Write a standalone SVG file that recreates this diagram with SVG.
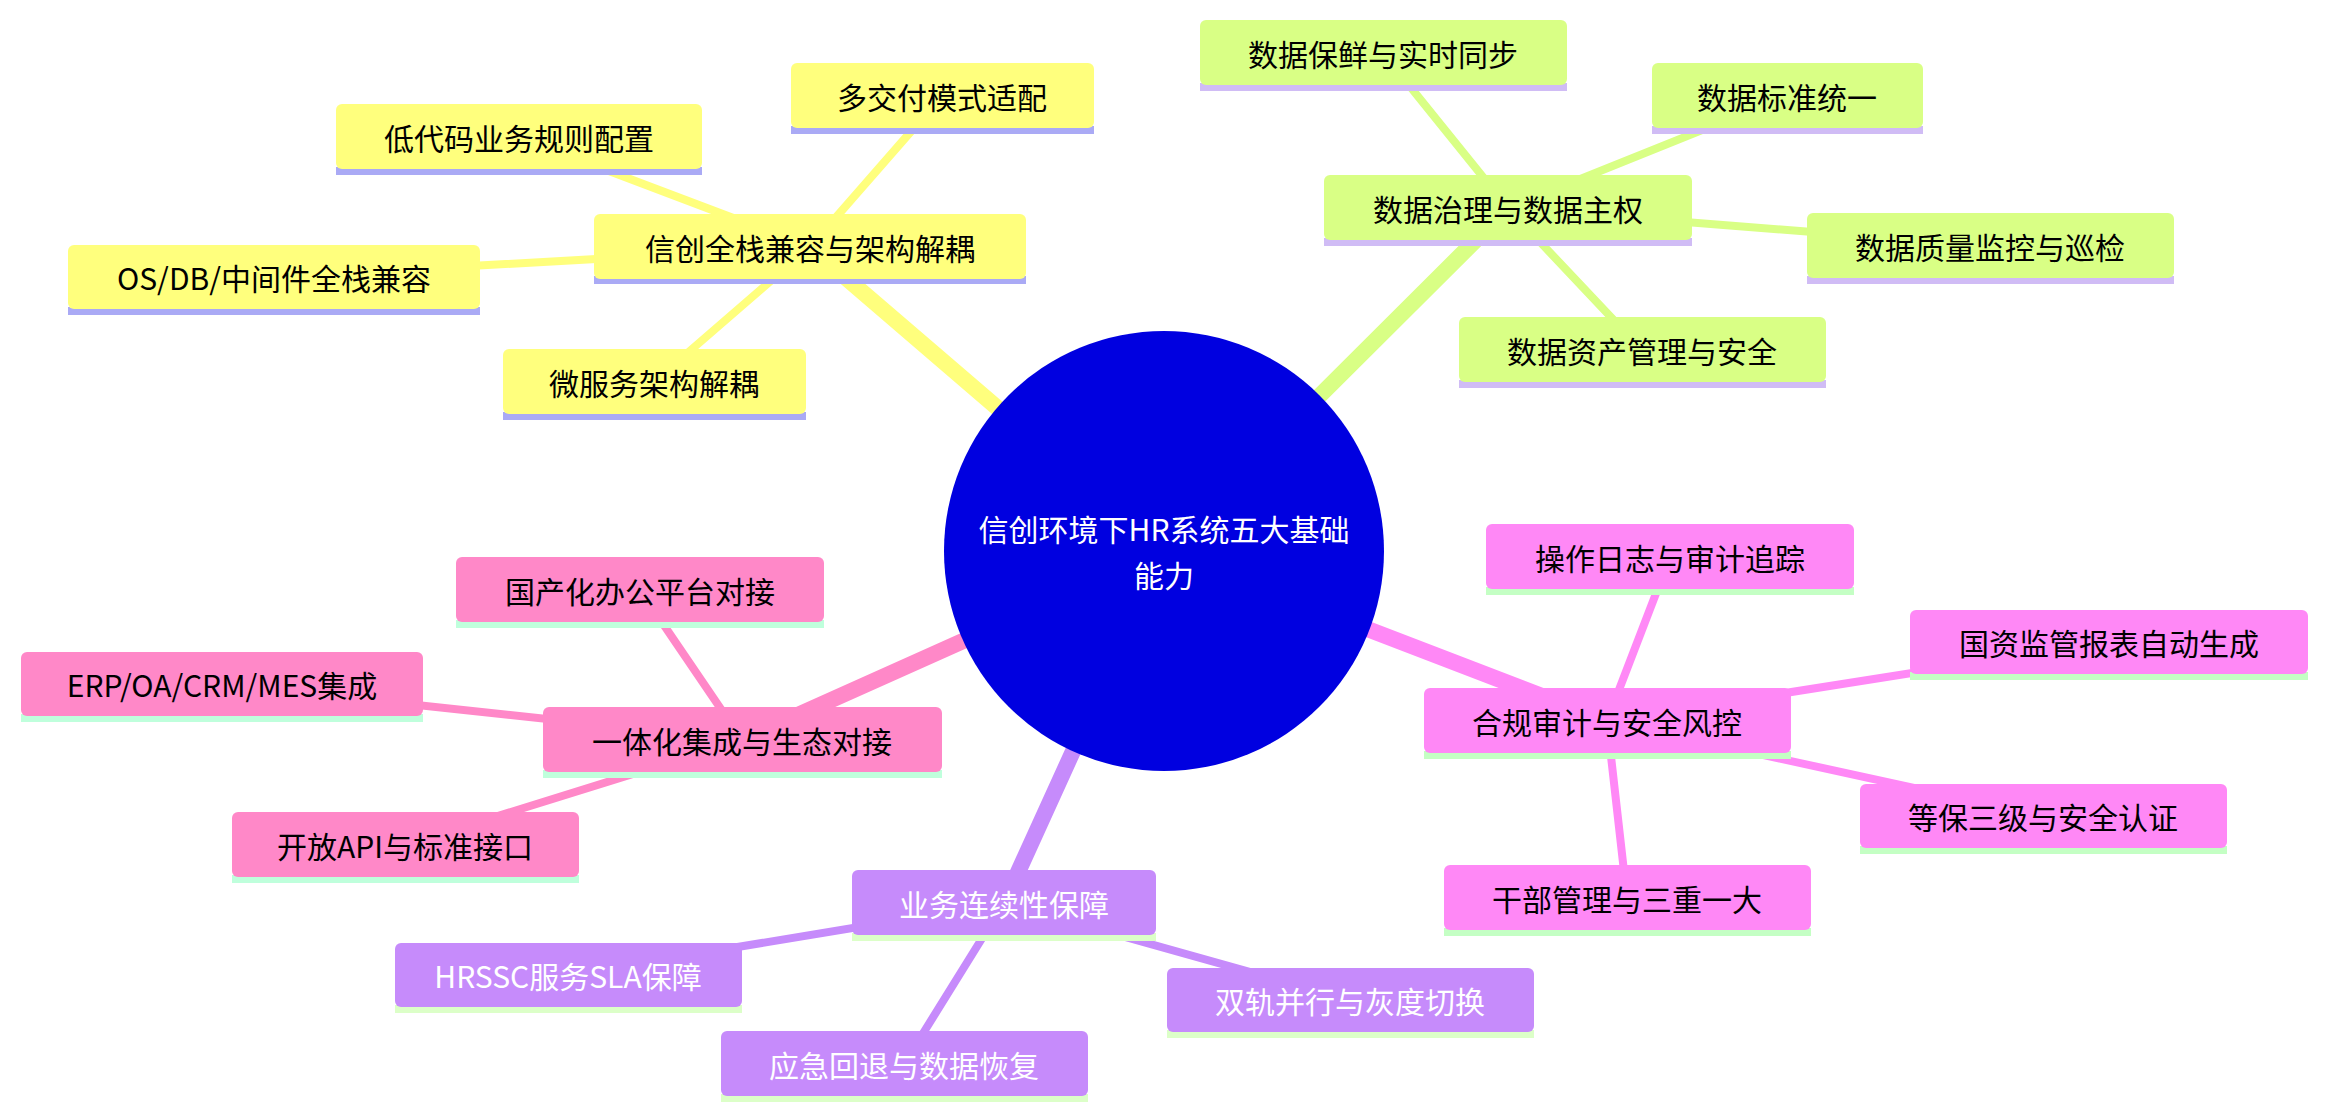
<svg xmlns="http://www.w3.org/2000/svg" width="2329" height="1118" viewBox="0 0 2329 1118">
<style>
text{font-family:"Noto Sans CJK SC","Noto Sans",sans-serif;font-size:30px;text-anchor:middle;dominant-baseline:central}
.y rect.b{fill:#ffff7d}.y rect.u{fill:#aaaaf5}
.g rect.b{fill:#d9ff85}.g rect.u{fill:#d0bcf5}
.p rect.b{fill:#ff88c8}.p rect.u{fill:#bfffdc}
.v rect.b{fill:#c68bfb}.v rect.u{fill:#dcffc8}
.m rect.b{fill:#ff88f6}.m rect.u{fill:#c4ffc4}
.v text,.c text{fill:#fff}
.ly{stroke:#ffff7d}.lg{stroke:#d9ff85}.lp{stroke:#ff88c8}.lv{stroke:#c68bfb}.lm{stroke:#ff88f6}
.t{stroke-width:16}.s{stroke-width:8}
</style>
<g id="connectors" fill="none" stroke-linecap="round">
<line class="ly t" x1="1164" y1="551" x2="810" y2="247"/>
<line class="ly s" x1="810" y1="247" x2="942" y2="96"/>
<line class="ly s" x1="810" y1="247" x2="519" y2="137"/>
<line class="ly s" x1="810" y1="247" x2="274" y2="277"/>
<line class="ly s" x1="810" y1="247" x2="654" y2="382"/>
<line class="lg t" x1="1164" y1="551" x2="1508" y2="208"/>
<line class="lg s" x1="1508" y1="208" x2="1383" y2="53"/>
<line class="lg s" x1="1508" y1="208" x2="1787" y2="96"/>
<line class="lg s" x1="1508" y1="208" x2="1990" y2="246"/>
<line class="lg s" x1="1508" y1="208" x2="1642" y2="350"/>
<line class="lp t" x1="1164" y1="551" x2="742" y2="740"/>
<line class="lp s" x1="742" y1="740" x2="640" y2="590"/>
<line class="lp s" x1="742" y1="740" x2="222" y2="684"/>
<line class="lp s" x1="742" y1="740" x2="405" y2="845"/>
<line class="lv t" x1="1164" y1="551" x2="1004" y2="903"/>
<line class="lv s" x1="1004" y1="903" x2="568" y2="975"/>
<line class="lv s" x1="1004" y1="903" x2="904" y2="1064"/>
<line class="lv s" x1="1004" y1="903" x2="1350" y2="1000"/>
<line class="lm t" x1="1164" y1="551" x2="1607" y2="721"/>
<line class="lm s" x1="1607" y1="721" x2="1670" y2="557"/>
<line class="lm s" x1="1607" y1="721" x2="2109" y2="642"/>
<line class="lm s" x1="1607" y1="721" x2="2043" y2="816"/>
<line class="lm s" x1="1607" y1="721" x2="1627" y2="898"/>
</g>
<g id="center" class="c"><circle cx="1164" cy="551" r="220" fill="#0000e0"/><text x="1164" y="528">信创环境下HR系统五大基础</text><text x="1164" y="574">能力</text></g>
<g id="n1" class="y"><rect class="u" x="594" y="276" width="432" height="8"/><rect class="b" x="594" y="214" width="432" height="65" rx="6"/><text x="810" y="247" fill="#000">信创全栈兼容与架构解耦</text></g>
<g id="n1a" class="y"><rect class="u" x="791" y="126" width="303" height="8"/><rect class="b" x="791" y="63" width="303" height="65" rx="6"/><text x="942" y="96">多交付模式适配</text></g>
<g id="n1b" class="y"><rect class="u" x="336" y="167" width="366" height="8"/><rect class="b" x="336" y="104" width="366" height="65" rx="6"/><text x="519" y="137">低代码业务规则配置</text></g>
<g id="n1c" class="y"><rect class="u" x="68" y="307" width="412" height="8"/><rect class="b" x="68" y="245" width="412" height="64" rx="6"/><text x="274" y="277">OS/DB/中间件全栈兼容</text></g>
<g id="n1d" class="y"><rect class="u" x="503" y="412" width="303" height="8"/><rect class="b" x="503" y="349" width="303" height="65" rx="6"/><text x="654" y="382">微服务架构解耦</text></g>
<g id="n2" class="g"><rect class="u" x="1324" y="238" width="368" height="8"/><rect class="b" x="1324" y="175" width="368" height="65" rx="6"/><text x="1508" y="208">数据治理与数据主权</text></g>
<g id="n2a" class="g"><rect class="u" x="1200" y="83" width="367" height="8"/><rect class="b" x="1200" y="20" width="367" height="65" rx="6"/><text x="1383" y="53">数据保鲜与实时同步</text></g>
<g id="n2b" class="g"><rect class="u" x="1652" y="126" width="271" height="8"/><rect class="b" x="1652" y="63" width="271" height="65" rx="6"/><text x="1787" y="96">数据标准统一</text></g>
<g id="n2c" class="g"><rect class="u" x="1807" y="276" width="367" height="8"/><rect class="b" x="1807" y="213" width="367" height="65" rx="6"/><text x="1990" y="246">数据质量监控与巡检</text></g>
<g id="n2d" class="g"><rect class="u" x="1459" y="380" width="367" height="8"/><rect class="b" x="1459" y="317" width="367" height="65" rx="6"/><text x="1642" y="350">数据资产管理与安全</text></g>
<g id="n3" class="p"><rect class="u" x="543" y="770" width="399" height="8"/><rect class="b" x="543" y="707" width="399" height="65" rx="6"/><text x="742" y="740">一体化集成与生态对接</text></g>
<g id="n3a" class="p"><rect class="u" x="456" y="620" width="368" height="8"/><rect class="b" x="456" y="557" width="368" height="65" rx="6"/><text x="640" y="590">国产化办公平台对接</text></g>
<g id="n3b" class="p"><rect class="u" x="21" y="714" width="402" height="8"/><rect class="b" x="21" y="652" width="402" height="64" rx="6"/><text x="222" y="684">ERP/OA/CRM/MES集成</text></g>
<g id="n3c" class="p"><rect class="u" x="232" y="875" width="347" height="8"/><rect class="b" x="232" y="812" width="347" height="65" rx="6"/><text x="405" y="845">开放API与标准接口</text></g>
<g id="n4" class="v"><rect class="u" x="852" y="933" width="304" height="8"/><rect class="b" x="852" y="870" width="304" height="65" rx="6"/><text x="1004" y="903">业务连续性保障</text></g>
<g id="n4a" class="v"><rect class="u" x="395" y="1005" width="347" height="8"/><rect class="b" x="395" y="943" width="347" height="64" rx="6"/><text x="568" y="975">HRSSC服务SLA保障</text></g>
<g id="n4b" class="v"><rect class="u" x="721" y="1094" width="367" height="8"/><rect class="b" x="721" y="1031" width="367" height="65" rx="6"/><text x="904" y="1064">应急回退与数据恢复</text></g>
<g id="n4c" class="v"><rect class="u" x="1167" y="1030" width="367" height="8"/><rect class="b" x="1167" y="968" width="367" height="64" rx="6"/><text x="1350" y="1000">双轨并行与灰度切换</text></g>
<g id="n5" class="m"><rect class="u" x="1424" y="751" width="367" height="8"/><rect class="b" x="1424" y="688" width="367" height="65" rx="6"/><text x="1607" y="721">合规审计与安全风控</text></g>
<g id="n5a" class="m"><rect class="u" x="1486" y="587" width="368" height="8"/><rect class="b" x="1486" y="524" width="368" height="65" rx="6"/><text x="1670" y="557">操作日志与审计追踪</text></g>
<g id="n5b" class="m"><rect class="u" x="1910" y="672" width="398" height="8"/><rect class="b" x="1910" y="610" width="398" height="64" rx="6"/><text x="2109" y="642">国资监管报表自动生成</text></g>
<g id="n5c" class="m"><rect class="u" x="1860" y="846" width="367" height="8"/><rect class="b" x="1860" y="784" width="367" height="64" rx="6"/><text x="2043" y="816">等保三级与安全认证</text></g>
<g id="n5d" class="m"><rect class="u" x="1444" y="928" width="367" height="8"/><rect class="b" x="1444" y="865" width="367" height="65" rx="6"/><text x="1627" y="898">干部管理与三重一大</text></g>
</svg>
